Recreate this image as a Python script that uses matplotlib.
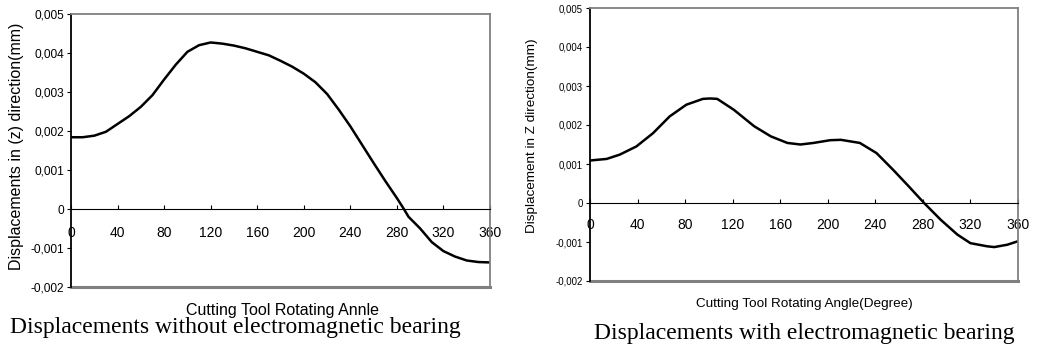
import numpy as np
import matplotlib
matplotlib.use("Agg")
import matplotlib.pyplot as plt

plt.rcParams["font.family"] = ["Liberation Sans", "DejaVu Sans"]

# angle (deg) and displacement (mm)
ang_a = [0, 10, 20, 30, 40, 50, 60, 70, 80, 90, 100, 110, 120, 130, 140, 150, 160,
         170, 180, 190, 200, 210, 220, 230, 240, 250, 260, 270, 280, 286, 290, 300,
         310, 320, 330, 340, 350, 360]
disp_a = [1.84, 1.84, 1.88, 1.98, 2.18, 2.38, 2.62, 2.92, 3.32, 3.70, 4.03, 4.20,
          4.27, 4.24, 4.19, 4.12, 4.03, 3.94, 3.80, 3.65, 3.47, 3.25, 2.95, 2.55,
          2.12, 1.65, 1.18, 0.72, 0.28, 0.0, -0.2, -0.50, -0.85, -1.08, -1.22,
          -1.32, -1.36, -1.37]

ang_b = [0, 14, 25, 39, 53, 67, 81, 95, 101, 107, 121, 138, 152, 166, 177, 188,
         202, 211, 227, 241, 255, 268, 281, 295, 309, 320, 334, 340, 351, 360]
disp_b = [1.09, 1.13, 1.24, 1.45, 1.79, 2.22, 2.52, 2.67, 2.68, 2.67, 2.39, 1.97,
          1.71, 1.54, 1.50, 1.54, 1.61, 1.62, 1.54, 1.28, 0.85, 0.43, 0.0, -0.43,
          -0.81, -1.03, -1.11, -1.13, -1.07, -0.98]

xticks = [0, 40, 80, 120, 160, 200, 240, 280, 320, 360]
yticks = [0.005, 0.004, 0.003, 0.002, 0.001, 0, -0.001, -0.002]
ylabels = ["0,005", "0,004", "0,003", "0,002", "0,001", "0", "-0,001", "-0,002"]

W, H = 1038, 347
fig = plt.figure(figsize=(W / 100, H / 100), dpi=100)


def panel(rect, ang, disp, ysize, xsize, xpad):
    ax = fig.add_axes(rect)
    ax.plot(ang, np.array(disp) * 1e-3, color="black", lw=1.8)
    ax.set_xlim(0, 360)
    ax.set_ylim(-0.002, 0.005)
    ax.set_yticks(yticks)
    ax.set_yticklabels(ylabels, fontsize=ysize)
    ax.set_xticks(xticks)
    ax.set_xticklabels([str(t) for t in xticks], fontsize=xsize)
    ax.spines["bottom"].set_position(("data", 0))
    ax.spines["bottom"].set_color("black")
    ax.spines["left"].set_color("black")
    ax.spines["left"].set_linewidth(1.3)
    for s in ["top", "right"]:
        ax.spines[s].set_color("#808080")
        ax.spines[s].set_linewidth(1.3)
    ax.axhline(-0.002, color="#808080", lw=2.2, clip_on=False)
    ax.tick_params(axis="x", direction="in", length=3, pad=xpad)
    ax.tick_params(axis="y", direction="out", length=3, pad=2)
    return ax


panel([71 / W, 60 / H, 419 / W, 273 / H], ang_a, disp_a, 8.6, 8.5, 12)
panel([590 / W, 66 / H, 428 / W, 273 / H], ang_b, disp_b, 6.9, 8.3, 11)

serif = "Liberation Serif"

fig.text(17 / W, 1 - 146 / H, "Displacements in (z) direction(mm)", rotation=90,
         ha="center", va="center", fontsize=11.5)
fig.text(532 / W, 1 - 233 / H, "Displacement in Z direction(mm)", rotation=90,
         ha="center", va="bottom", fontsize=9.7)

fig.text(283 / W, 1 - 311 / H, "Cutting Tool Rotating Annle", ha="center",
         va="center", fontsize=11.5)
fig.text(804 / W, 1 - 304 / H, "Cutting Tool Rotating Angle(Degree)", ha="center",
         va="center", fontsize=9.7)

fig.text(235 / W, 1 - 328 / H, "Displacements without electromagnetic bearing",
         ha="center", va="center", fontsize=17, family=serif)
fig.text(804 / W, 1 - 333 / H, "Displacements with electromagnetic bearing",
         ha="center", va="center", fontsize=17, family=serif)

fig.savefig("out.png", dpi=100)
